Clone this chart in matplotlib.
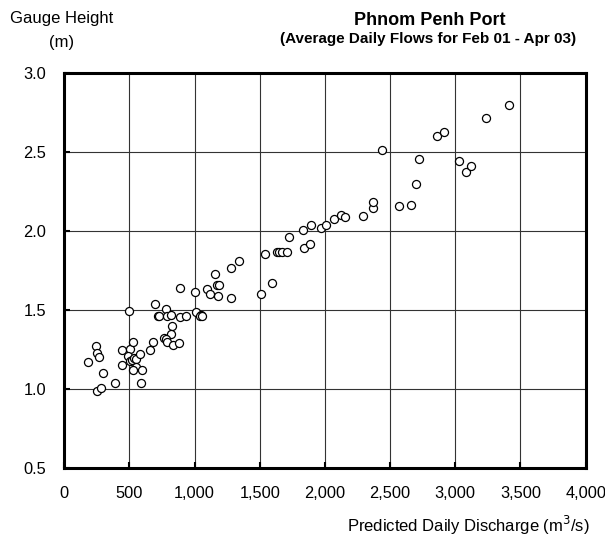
import matplotlib.pyplot as plt
from matplotlib.ticker import FuncFormatter, MultipleLocator

plt.rcParams['font.family'] = ['Liberation Sans', 'DejaVu Sans']

# daily discharge (m3/s) and gauge height (m)
discharge = [
    182, 245, 255, 268, 295, 252, 285, 391, 442, 442, 495, 505, 525, 492,
    505, 518, 535, 550, 581, 550, 525, 601, 588, 662, 684, 695, 720, 730,
    785, 788, 821, 831, 821, 765, 778, 788, 833, 881, 889, 934, 891, 1000,
    1094, 1115, 1173, 1190, 1179, 1278, 1158, 1281, 1344, 1015, 1048, 1045,
    1056,
    1510, 1596, 1544, 1632, 1650, 1671, 1710, 1725, 1842, 1886, 1832, 1896,
    1969, 2005, 2070, 2122, 2155, 2292, 2367, 2367, 2570, 2658,
    2440, 2700, 2721, 2859, 2910, 3028, 3082, 3123, 3238, 3410,
]
gauge = [
    1.17, 1.27, 1.23, 1.20, 1.10, 0.985, 1.005, 1.04, 1.15, 1.245, 1.495,
    1.255, 1.30, 1.21, 1.175, 1.185, 1.195, 1.19, 1.22, 1.14, 1.12, 1.12,
    1.04, 1.245, 1.295, 1.54, 1.46, 1.46, 1.505, 1.46, 1.47, 1.40, 1.35,
    1.32, 1.315, 1.295, 1.275, 1.29, 1.455, 1.46, 1.64, 1.615, 1.63, 1.60,
    1.66, 1.655, 1.59, 1.575, 1.725, 1.763, 1.81, 1.487, 1.47, 1.46, 1.46,
    1.60, 1.67, 1.855, 1.864, 1.864, 1.864, 1.864, 1.96, 1.89, 1.915, 2.005,
    2.04, 2.02, 2.04, 2.075, 2.10, 2.09, 2.095, 2.145, 2.185, 2.155, 2.164,
    2.51, 2.30, 2.455, 2.603, 2.628, 2.44, 2.37, 2.41, 2.714, 2.794,
]

fig = plt.figure(figsize=(6.05, 5.36), dpi=100)
ax = fig.add_axes([0.106, 0.127, 0.862, 0.737])

ax.plot(discharge, gauge, 'o', mfc='white', mec='black', ms=5.8, mew=0.9,
        zorder=3)

ax.set_xlim(0, 4000)
ax.set_ylim(0.5, 3.0)
ax.xaxis.set_major_locator(MultipleLocator(500))
ax.yaxis.set_major_locator(MultipleLocator(0.5))
ax.xaxis.set_major_formatter(FuncFormatter(lambda v, p: f'{v:,.0f}'))
ax.yaxis.set_major_formatter(FuncFormatter(lambda v, p: f'{v:.1f}'))
ax.grid(True, color='#333333', lw=0.8)
ax.tick_params(direction='in', length=4, width=1.5, labelsize=11.8, color='black')
ax.tick_params(axis='x', pad=13)
ax.tick_params(axis='y', pad=13)
for s in ax.spines.values():
    s.set_linewidth(2.2)

fig.text(0.1025, 0.9646, 'Gauge Height', ha='center', va='center', fontsize=12)
fig.text(0.1025, 0.9207, '(m)', ha='center', va='center', fontsize=12)
fig.text(0.711, 0.961, 'Phnom Penh Port', ha='center', va='center',
         fontsize=13, fontweight='bold')
fig.text(0.707, 0.927, '(Average Daily Flows for Feb 01 - Apr 03)',
         ha='center', va='center', fontsize=11, fontweight='bold')
fig.text(0.975, 0.008, 'Predicted Daily Discharge (m$^3$/s)', ha='right',
         va='baseline', fontsize=12)

fig.savefig('out.png', dpi=100)
